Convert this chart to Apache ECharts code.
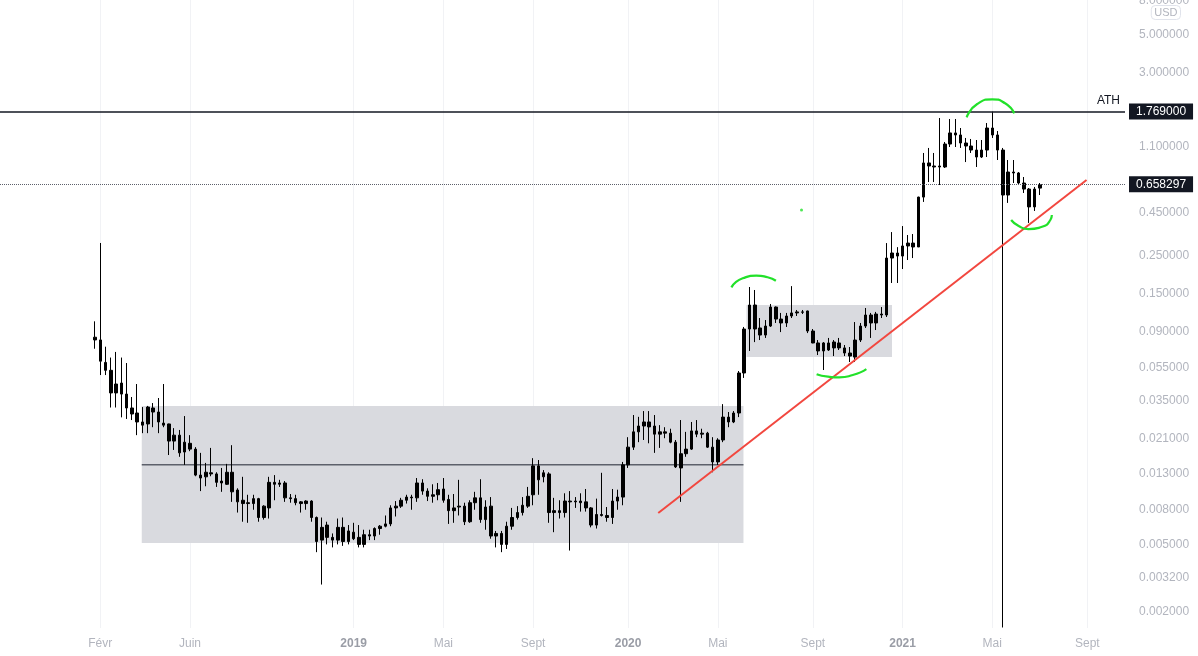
<!DOCTYPE html>
<html><head><meta charset="utf-8">
<script src="https://cdn.jsdelivr.net/npm/echarts@6/dist/echarts.min.js"></script>
<style>html,body{margin:0;padding:0;background:#fff}#chart{width:1198px;height:656px}</style>
</head><body><div id="chart"></div>
<script>
// ---- data ----
const firstWeek = '2018-01-29'; // weekly candles, one per week from this Monday
// [open, close, low, high]
const ohlc = [
[0.083,0.080,0.071,0.103],[0.080,0.060,0.0497,0.298],[0.059,0.053,0.0497,0.073],[0.053,0.039,0.032,0.063],
[0.039,0.044,0.032,0.068],[0.0446,0.0384,0.028,0.063],[0.0384,0.0318,0.0274,0.0585],[0.0318,0.0293,0.027,0.0369],
[0.0297,0.0263,0.022,0.044],[0.0263,0.0252,0.0226,0.0322],[0.0256,0.0322,0.0226,0.0327],[0.0318,0.0301,0.0245,0.034],
[0.0301,0.0263,0.0226,0.0364],[0.0259,0.0252,0.0245,0.044],[0.0256,0.0203,0.0168,0.0257],[0.0203,0.022,0.018,0.0242],
[0.022,0.0173,0.0164,0.0236],[0.0175,0.020,0.0147,0.0285],[0.0197,0.0182,0.0177,0.022],[0.0182,0.0128,0.0126,0.0187],
[0.0128,0.0123,0.0103,0.0173],[0.0125,0.0133,0.011,0.0151],[0.0132,0.013,0.0126,0.0185],[0.013,0.0116,0.0109,0.0133],
[0.0118,0.0115,0.0102,0.0141],[0.0113,0.0133,0.0112,0.0149],[0.0133,0.0102,0.0089,0.0192],[0.01045,0.0089,0.0077,0.0107],
[0.0091,0.0087,0.0068,0.0125],[0.0087,0.0088,0.0067,0.0098],[0.0087,0.0093,0.008,0.0098],[0.0093,0.0072,0.0068,0.0094],
[0.0072,0.0084,0.007,0.0085],[0.0082,0.0116,0.0071,0.0125],[0.0116,0.0113,0.0091,0.0128],[0.0113,0.0115,0.0109,0.012],
[0.0115,0.0094,0.0089,0.0118],[0.0094,0.0093,0.0088,0.0099],[0.0093,0.0088,0.0085,0.0098],[0.0089,0.0087,0.0077,0.009],
[0.0087,0.009,0.008,0.0091],[0.009,0.0072,0.0068,0.0091],[0.0072,0.0052,0.0045,0.0073],[0.0053,0.0063,0.0029,0.0072],
[0.0065,0.0055,0.005,0.0068],[0.0055,0.0053,0.0048,0.0058],[0.0053,0.0063,0.005,0.0071],[0.0063,0.0052,0.0049,0.0072],
[0.0052,0.006,0.005,0.0065],[0.0059,0.0054,0.0053,0.0067],[0.0055,0.005,0.0048,0.0065],[0.005,0.0057,0.0048,0.0061],
[0.0057,0.0056,0.0053,0.0061],[0.0056,0.0062,0.0053,0.0063],[0.0062,0.0064,0.0057,0.0065],[0.0064,0.0066,0.0063,0.0074],
[0.0066,0.0082,0.0064,0.0085],[0.0082,0.0084,0.0073,0.009],[0.0084,0.0091,0.0082,0.0094],[0.0091,0.0095,0.0087,0.0098],
[0.0095,0.0094,0.008,0.0098],[0.0094,0.0115,0.0089,0.0123],[0.0115,0.0103,0.0098,0.0121],[0.0103,0.0096,0.009,0.0107],
[0.0096,0.0098,0.0088,0.0113],[0.0098,0.0105,0.0091,0.0115],[0.0106,0.0091,0.0088,0.0123],[0.0092,0.0079,0.0066,0.0098],
[0.0079,0.0082,0.0067,0.0099],[0.0083,0.0084,0.0074,0.012],[0.0084,0.0068,0.0065,0.0088],[0.0068,0.0088,0.0067,0.0091],
[0.0088,0.0094,0.008,0.0102],[0.0094,0.007,0.0067,0.0121],[0.007,0.0083,0.0061,0.0091],[0.0084,0.0056,0.0054,0.0095],
[0.0056,0.0058,0.0048,0.006],[0.0058,0.005,0.0045,0.006],[0.005,0.0064,0.0047,0.0068],[0.0064,0.0072,0.0061,0.0082],
[0.0072,0.0077,0.007,0.0084],[0.0077,0.0085,0.0074,0.0095],[0.0084,0.0096,0.0082,0.0109],[0.0098,0.0145,0.0085,0.0161],
[0.0145,0.012,0.0098,0.0157],[0.0125,0.0132,0.0116,0.0137],[0.013,0.0077,0.0067,0.0133],[0.0077,0.0079,0.0059,0.0094],
[0.0079,0.0077,0.0071,0.0091],[0.0077,0.009,0.0072,0.01],[0.009,0.0089,0.0046,0.0103],[0.0089,0.009,0.0082,0.0095],
[0.009,0.0088,0.0078,0.01],[0.0089,0.0082,0.0078,0.0106],[0.0082,0.0065,0.0063,0.0083],[0.0065,0.0075,0.0062,0.0093],
[0.0075,0.0074,0.0073,0.0132],[0.0074,0.0072,0.0068,0.0083],[0.0072,0.009,0.0066,0.0106],[0.009,0.0095,0.008,0.0105],
[0.0095,0.0147,0.0085,0.0153],[0.0147,0.0187,0.0141,0.0214],[0.0187,0.023,0.018,0.0289],[0.023,0.0249,0.02,0.0282],
[0.0249,0.0263,0.0206,0.0305],[0.0263,0.0246,0.0197,0.0305],[0.0249,0.0223,0.0173,0.0289],[0.0223,0.023,0.0185,0.0252],
[0.023,0.0226,0.0211,0.0245],[0.0226,0.02,0.0197,0.024],[0.02,0.0143,0.0141,0.0206],[0.0141,0.0171,0.0089,0.027],
[0.0171,0.0182,0.0164,0.023],[0.0182,0.0233,0.018,0.0263],[0.0233,0.0223,0.0214,0.027],[0.0223,0.0226,0.0211,0.024],
[0.0226,0.0187,0.0185,0.023],[0.0187,0.0153,0.0133,0.0214],[0.0153,0.0206,0.0147,0.0211],[0.0206,0.0281,0.02,0.0335],
[0.0281,0.0263,0.0245,0.0301],[0.0263,0.0297,0.0259,0.0305],[0.0297,0.0511,0.0281,0.0525],[0.0511,0.0928,0.0478,0.0954],
[0.0928,0.1285,0.0689,0.164],[0.1285,0.0928,0.0777,0.1575],[0.0941,0.0855,0.0799,0.1077],[0.0855,0.0966,0.0822,0.1048],
[0.0966,0.125,0.0954,0.1303],[0.125,0.1062,0.1007,0.126],[0.1062,0.1007,0.089,0.1154],[0.1007,0.1107,0.0954,0.1154],
[0.1107,0.1154,0.1077,0.166],[0.1154,0.117,0.1107,0.1201],[0.117,0.1165,0.1137,0.1201],[0.1185,0.0903,0.0878,0.119],
[0.0903,0.0768,0.0765,0.0928],[0.0768,0.0689,0.0652,0.0799],[0.0689,0.0768,0.0532,0.0778],[0.0768,0.0698,0.0689,0.0822],
[0.0718,0.0778,0.0643,0.0799],[0.0768,0.0718,0.0698,0.0822],[0.0718,0.067,0.0643,0.0747],[0.067,0.0643,0.0593,0.0727],
[0.0634,0.0799,0.0593,0.102],[0.0799,0.0966,0.0778,0.1007],[0.0966,0.1122,0.0941,0.1234],[0.1122,0.1007,0.0822,0.1154],
[0.1007,0.1137,0.0915,0.117],[0.1137,0.1122,0.1077,0.125],[0.1122,0.2429,0.1092,0.2976],[0.2429,0.2601,0.1732,0.3455],
[0.2601,0.2496,0.1732,0.2816],[0.2496,0.2861,0.2093,0.3749],[0.2861,0.2976,0.2365,0.332],[0.2976,0.2822,0.2429,0.3365],
[0.2822,0.5553,0.2822,0.558],[0.5553,0.882,0.52,1.01],[0.882,0.8465,0.681,1.081],[0.8465,0.835,0.681,1.01],
[0.835,0.8465,0.654,1.623],[0.835,1.14,0.824,1.172],[1.14,1.325,1.095,1.601],[1.325,1.289,1.095,1.601],
[1.289,1.156,1.081,1.417],[1.156,1.11,0.893,1.238],[1.11,1.051,1.01,1.221],[1.051,0.956,0.835,1.204],
[0.956,1.051,0.943,1.204],[1.051,1.417,0.956,1.516],[1.417,1.289,1.238,1.769],[1.289,1.051,0.918,1.36],
[1.051,0.571,0.00162,1.081],[0.571,0.78,0.513,0.918],[0.78,0.77,0.672,0.918],[0.77,0.672,0.654,0.78],
[0.672,0.619,0.587,0.729],[0.619,0.486,0.391,0.628],[0.486,0.619,0.46,0.637],[0.627,0.658297,0.571,0.672]
];
const athPrice = 1.769;
const lastPrice = 0.658297;
const yTickValues = [8, 5, 3, 1.1, 0.45, 0.25, 0.15, 0.09, 0.055, 0.035, 0.021, 0.013, 0.008, 0.005, 0.0032, 0.002];
const xTickDates = ['2018-02-05','2018-06-04','2019-01-07','2019-05-06','2019-09-02','2020-01-06','2020-05-04','2020-09-07','2021-01-04','2021-05-03','2021-09-06'];
const xTickLabels = ['Févr','Juin','2019','Mai','Sept','2020','Mai','Sept','2021','Mai','Sept'];
// drawings (date, price)
const rangeBoxes = [[['2018-04-01',0.0327],['2020-06-07',0.0051]], [['2020-06-11',0.1285],['2020-12-21',0.0634]]];
const midLine = [['2018-04-01',0.0147],['2020-06-07',0.0147]];
const trendLine = [['2020-02-15',0.00765],['2021-09-05',0.700]];
const arcTop1 = [['2020-05-22',0.1633],['2020-06-06',0.1845],['2020-06-24',0.1912],['2020-07-09',0.1871],['2020-07-20',0.1786]];
const arcBottom1 = [['2020-09-12',0.0502],['2020-09-27',0.0486],['2020-10-12',0.0482],['2020-10-30',0.0497],['2020-11-17',0.0539]];
const arcTop2 = [['2021-03-30',1.638],['2021-04-13',1.962],['2021-05-03',2.091],['2021-05-20',1.981],['2021-06-01',1.729]];
const arcBottom2 = [['2021-05-28',0.407],['2021-06-07',0.375],['2021-06-20',0.360],['2021-07-08',0.371],['2021-07-19',0.407],['2021-07-21',0.435]];
const greenDot = [['2020-08-23',0.466]];

// ---- helpers ----
const ts = s => { const [y,m,d] = s.split('-').map(Number); return new Date(y, m-1, d).getTime(); };
const base = ts(firstWeek);
const weekTs = ohlc.map((_, i) => { const d = new Date(base); d.setDate(d.getDate() + 7*i); return d.getTime(); });
const pts = arr => arr.map(p => [ts(p[0]), p[1]]);
const xTickTs = xTickDates.map(ts);

const chart = echarts.init(document.getElementById('chart'), null, {renderer: 'canvas'});
const FONT = 'Liberation Sans, Arial, sans-serif';
const green = '#22e12a';
const arcSeries = [arcTop1, arcBottom1, arcTop2, arcBottom2].map(a => ({
  type: 'line', data: pts(a), smooth: 0.6, showSymbol: false, silent: true, z: 6,
  lineStyle: {color: green, width: 2.2}
}));

chart.setOption({
  animation: false,
  backgroundColor: '#ffffff',
  grid: {left: 0, right: 73, top: 0, bottom: 28, containLabel: false, outerBoundsMode: 'none'},
  xAxis: {
    type: 'value', min: ts('2017-09-25'), max: ts('2021-10-26'), scale: true,
    axisLine: {show: false}, axisTick: {show: false, customValues: xTickTs},
    splitLine: {show: true, lineStyle: {color: '#f1f2f5', width: 1}},
    axisLabel: {
      customValues: xTickTs, margin: 10, fontFamily: FONT, fontSize: 12, color: '#b2b5be',
      formatter: v => { const i = xTickTs.indexOf(v); const l = i >= 0 ? xTickLabels[i] : ''; return /^\d{4}$/.test(l) ? '{y|' + l + '}' : l; },
      rich: {y: {fontWeight: 'bold', fontFamily: FONT, fontSize: 12, color: '#9a9da6'}}
    }
  },
  yAxis: {
    type: 'log', logBase: 10, position: 'right', min: 0.001609, max: 8.04,
    axisLine: {show: false}, axisTick: {show: false}, splitLine: {show: false},
    axisLabel: {customValues: yTickValues, margin: 14, fontFamily: FONT, fontSize: 12, color: '#b2b5be',
      formatter: v => Number(v).toFixed(6)}
  },
  graphic: [{
    type: 'text', right: 17, top: 5, silent: true,
    style: {text: 'USD', fill: '#b2b5be', font: '11px ' + FONT, borderColor: '#e0e3eb', borderWidth: 1, borderRadius: 4, padding: [2, 3, 1, 3]}
  }],
  series: [
    {
      type: 'line', data: [], silent: true, z: 1,
      markArea: {silent: true, itemStyle: {color: '#d9dadf'},
        data: rangeBoxes.map(b => [{coord: [ts(b[0][0]), b[0][1]]}, {coord: [ts(b[1][0]), b[1][1]]}])}
    },
    {
      type: 'line', data: pts(midLine), showSymbol: false, silent: true, z: 2,
      lineStyle: {color: '#5d606b', width: 1.5}
    },
    {
      type: 'candlestick', z: 3, barWidth: 3,
      data: ohlc.map((d, i) => [weekTs[i], d[0], d[1], d[2], d[3]]),
      encode: {x: 0, y: [1, 2, 3, 4]},
      itemStyle: {color: '#000', color0: '#000', borderColor: '#000', borderColor0: '#000', borderWidth: 1},
      markLine: {
        silent: true, symbol: ['none', 'none'], animation: false,
        data: [
          {yAxis: athPrice, lineStyle: {color: '#131722', width: 1.6, type: 'solid'},
           label: {show: true, position: 'end', distance: 4, formatter: '1.769000', backgroundColor: '#131722', color: '#ffffff', padding: [2, 7, 2, 7], fontFamily: FONT, fontSize: 12}},
          {yAxis: lastPrice, lineStyle: {color: '#5d606b', width: 1, type: 'dotted'},
           label: {show: true, position: 'end', distance: 4, formatter: '0.658297', backgroundColor: '#131722', color: '#ffffff', padding: [2, 7, 2, 7], fontFamily: FONT, fontSize: 12}}
        ]
      }
    },
    {
      type: 'line', data: [], silent: true, z: 4,
      markLine: {
        silent: true, symbol: ['none', 'none'], animation: false,
        lineStyle: {color: 'rgba(0,0,0,0)', width: 1},
        label: {show: true, position: 'insideEndTop', distance: 5, formatter: 'ATH', color: '#131722', fontFamily: FONT, fontSize: 12},
        data: [{yAxis: athPrice}]
      }
    },
    {
      type: 'line', data: pts(trendLine), showSymbol: false, silent: true, z: 5,
      lineStyle: {color: '#f2473f', width: 2}
    },
    ...arcSeries,
    {
      type: 'scatter', data: pts(greenDot), symbolSize: 3, silent: true, z: 6,
      itemStyle: {color: green}
    }
  ]
});
</script>
</body></html>
